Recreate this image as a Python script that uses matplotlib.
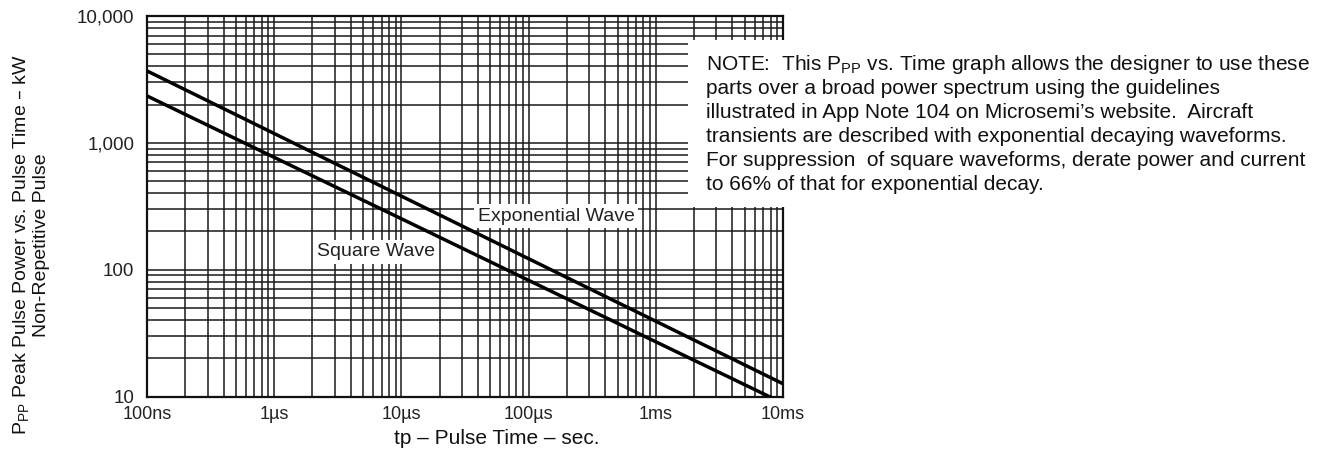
import matplotlib
matplotlib.use("Agg")
import matplotlib.pyplot as plt
from matplotlib.patches import Rectangle
from matplotlib.ticker import LogLocator, FixedLocator, FixedFormatter, NullFormatter

plt.rcParams['font.family'] = ['Liberation Sans', 'DejaVu Sans']

# ---- data ----
time_s = [1e-7, 1e-6, 1e-5, 1e-4, 1e-3, 1e-2]
exponential_kw = [3690, 1184, 380, 122, 39.2, 12.6]
square_kw = [2344, 768, 252, 82.4, 27.0, 8.85]

x_ticks = [1e-7, 1e-6, 1e-5, 1e-4, 1e-3, 1e-2]
x_labels = ["100ns", "1\u00b5s", "10\u00b5s", "100\u00b5s", "1ms", "10ms"]
y_ticks = [10, 100, 1000, 10000]
y_labels = ["10", "100", "1,000", "10,000"]

note_lines = [
    "NOTE:  This P$_{\\mathregular{PP}}$ vs. Time graph allows the designer to use these",
    "parts over a broad power spectrum using the guidelines",
    "illustrated in App Note 104 on Microsemi\u2019s website.  Aircraft",
    "transients are described with exponential decaying waveforms.",
    "For suppression  of square waveforms, derate power and current",
    "to 66% of that for exponential decay.",
]

W, H = 1325, 451
fig = plt.figure(figsize=(W / 100, H / 100), dpi=100)
L, R, T, B = 147, 783, 16, 396.5
ax = fig.add_axes([L / W, 1 - B / H, (R - L) / W, (B - T) / H])

ax.set_xscale('log')
ax.set_yscale('log')
ax.set_xlim(1e-7, 1e-2)
ax.set_ylim(10, 10000)

ax.xaxis.set_major_locator(FixedLocator(x_ticks))
ax.xaxis.set_major_formatter(FixedFormatter(x_labels))
ax.yaxis.set_major_locator(FixedLocator(y_ticks))
ax.yaxis.set_major_formatter(FixedFormatter(y_labels))
ax.xaxis.set_minor_locator(LogLocator(base=10, subs=range(2, 10), numticks=20))
ax.yaxis.set_minor_locator(LogLocator(base=10, subs=range(2, 10), numticks=20))
ax.xaxis.set_minor_formatter(NullFormatter())
ax.yaxis.set_minor_formatter(NullFormatter())

gc = '#1a1a1a'
ax.grid(True, which='both', color=gc, linewidth=1.1)
ax.tick_params(which='both', length=0)
ax.tick_params(axis='x', pad=7, labelsize=13, colors='#222222')
ax.tick_params(axis='y', pad=9, labelsize=13.5, colors='#222222')
for s in ax.spines.values():
    s.set_color('#111111')
    s.set_linewidth(1.6)

ax.plot(time_s, exponential_kw, color='black', linewidth=2.5, solid_capstyle='butt', zorder=3)
ax.plot(time_s, square_kw, color='black', linewidth=2.5, solid_capstyle='butt', zorder=3)

# curve labels
ax.text(556 / W, 1 - 216 / H, "Exponential Wave", transform=fig.transFigure,
        ha='center', va='center', fontsize=14, color='#222222', zorder=4,
        bbox=dict(facecolor='white', edgecolor='none', pad=2.5))
ax.text(376 / W, 1 - 252 / H, "Square Wave", transform=fig.transFigure,
        ha='center', va='center', fontsize=14, color='#222222', zorder=4,
        bbox=dict(facecolor='white', edgecolor='none', pad=2.5))

# note box
fig.add_artist(Rectangle((688 / W, 1 - 207 / H), (1322 - 688) / W, (207 - 40) / H,
                         transform=fig.transFigure, facecolor='white',
                         edgecolor='none', zorder=5))
for i, line in enumerate(note_lines):
    fig.text(706 / W, 1 - (64 + 24 * i) / H, line, ha='left', va='center',
             fontsize=15, color='#111111', zorder=6)

# axis labels
fig.text(497 / W, 1 - 438 / H, "tp \u2013 Pulse Time \u2013 sec.", ha='center', va='center',
         fontsize=15, color='#111111')
fig.text(31 / W, 1 - 245 / H,
         "P$_{\\mathregular{PP}}$ Peak Pulse Power vs. Pulse Time \u2013 kW\nNon-Repetitive Pulse",
         ha='center', va='center', rotation=90, multialignment='center',
         fontsize=14, color='#111111', linespacing=1.1)

fig.savefig("out.png", dpi=100)
